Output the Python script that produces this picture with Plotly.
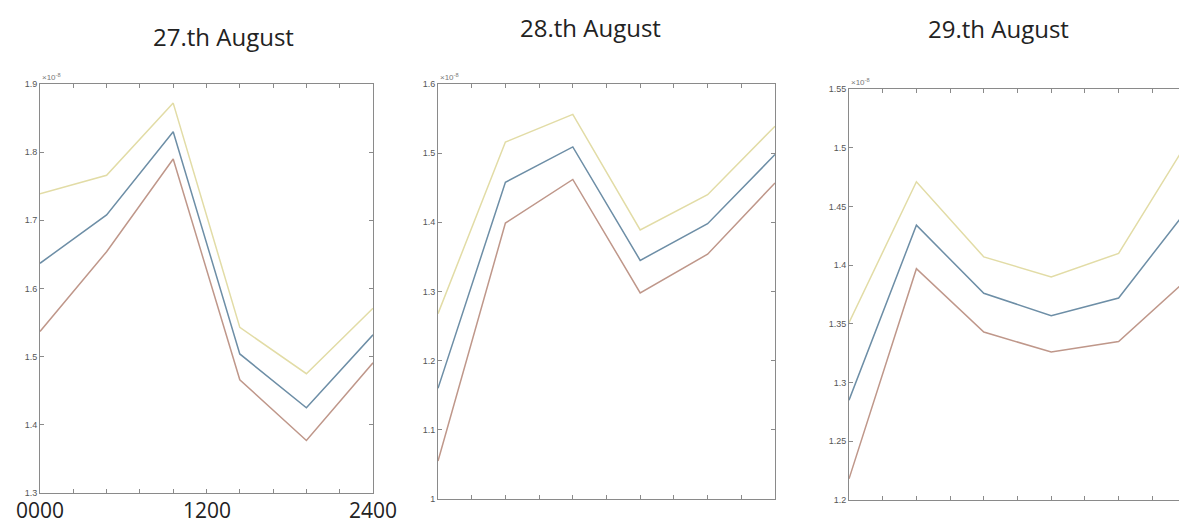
import plotly.graph_objects as go

W, H = 1179, 526

hours = [0, 480, 960, 1440, 1920, 2400]

titles = ["27.th August", "28.th August", "29.th August"]

# values in units of 1e-8
aug27_upper = [1.739, 1.766, 1.872, 1.543, 1.475, 1.571]
aug27_mid = [1.637, 1.708, 1.830, 1.504, 1.425, 1.532]
aug27_lower = [1.537, 1.654, 1.790, 1.466, 1.377, 1.491]

aug28_upper = [1.268, 1.516, 1.556, 1.389, 1.440, 1.539]
aug28_mid = [1.160, 1.458, 1.509, 1.345, 1.398, 1.498]
aug28_lower = [1.055, 1.399, 1.462, 1.298, 1.354, 1.457]

aug29_upper = [1.351, 1.471, 1.407, 1.390, 1.410, 1.503]
aug29_mid = [1.285, 1.434, 1.376, 1.357, 1.372, 1.446]
aug29_lower = [1.218, 1.397, 1.343, 1.326, 1.335, 1.387]

y_ticks_27 = [1.3, 1.4, 1.5, 1.6, 1.7, 1.8, 1.9]
y_ticks_28 = [1.0, 1.1, 1.2, 1.3, 1.4, 1.5, 1.6]
y_ticks_29 = [1.2, 1.25, 1.3, 1.35, 1.4, 1.45, 1.5, 1.55]
y_text_27 = ["1.3", "1.4", "1.5", "1.6", "1.7", "1.8", "1.9"]
y_text_28 = ["1", "1.1", "1.2", "1.3", "1.4", "1.5", "1.6"]
y_text_29 = ["1.2", "1.25", "1.3", "1.35", "1.4", "1.45", "1.5", "1.55"]

x_label_vals = [0, 1200, 2400]
x_label_text = ["0000", "1200", "2400"]

colors = {"upper": "#e2dca6", "mid": "#6d8ea6", "lower": "#bf978a"}

# pixel boxes (left, right, top, bottom)
boxes = [(40, 373, 84, 493), (438, 775, 84, 499), (849, 1179, 89, 500)]
xranges = [[0, 2400], [0, 2400], [0, 2350]]
yranges = [[1.3, 1.9], [1.0, 1.6], [1.2, 1.55]]

data = [
    (aug27_upper, aug27_mid, aug27_lower),
    (aug28_upper, aug28_mid, aug28_lower),
    (aug29_upper, aug29_mid, aug29_lower),
]
yticks = [(y_ticks_27, y_text_27), (y_ticks_28, y_text_28), (y_ticks_29, y_text_29)]

fig = go.Figure()
layout = dict(
    width=W, height=H,
    margin=dict(l=0, r=0, t=0, b=0),
    paper_bgcolor="white", plot_bgcolor="white",
    showlegend=False,
    annotations=[],
)

for i, (up, mid, lo) in enumerate(data):
    xa = "x" if i == 0 else f"x{i+1}"
    ya = "y" if i == 0 else f"y{i+1}"
    for series, key in ((up, "upper"), (lo, "lower"), (mid, "mid")):
        fig.add_trace(go.Scatter(
            x=hours, y=series, mode="lines", xaxis=xa, yaxis=ya,
            line=dict(color=colors[key], width=1.5), hoverinfo="skip",
        ))
    l, r, t, b = boxes[i]
    xd = [l / W, r / W]
    yd = [(H - b) / H, (H - t) / H]
    xkey = "xaxis" if i == 0 else f"xaxis{i+1}"
    ykey = "yaxis" if i == 0 else f"yaxis{i+1}"
    layout[xkey] = dict(
        domain=xd, range=xranges[i], anchor=ya,
        showline=True, linecolor="#8a8a8a", linewidth=1,
        mirror="ticks",
        showgrid=False, zeroline=False,
        ticks="inside", ticklen=4, tickcolor="#8a8a8a",
        dtick=240, tick0=0,
        showticklabels=False,
        automargin=False, fixedrange=True,
    )
    tv, tt = yticks[i]
    layout[ykey] = dict(
        domain=yd, range=yranges[i], anchor=xa,
        showline=True, linecolor="#8a8a8a", linewidth=1,
        mirror="ticks" if i < 2 else False,
        showgrid=False, zeroline=False,
        ticks="inside", ticklen=4, tickcolor="#8a8a8a",
        tickvals=tv, ticktext=tt,
        tickfont=dict(family="Arial, Liberation Sans, sans-serif", size=9, color="#555555"),
        automargin=False, fixedrange=True,
    )
    # exponent label
    layout["annotations"].append(dict(
        x=l / W, y=(H - t) / H, xref="paper", yref="paper",
        xanchor="left", yanchor="bottom", showarrow=False,
        text="×10<sup>-8</sup>", font=dict(family="Arial, sans-serif", size=8, color="#777777"),
    ))

# large x labels under the first panel, positioned by the first x axis
for v, txt in zip(x_label_vals, x_label_text):
    layout["annotations"].append(dict(
        x=v, y=0, xref="x", yref="paper",
        xanchor="center", yanchor="bottom", showarrow=False,
        text=txt, font=dict(family="Open Sans, sans-serif", size=21, color="#222222"),
    ))

title_pos = [(223, 37), (590, 27), (998, 28)]
for (cx, cy), txt in zip(title_pos, titles):
    layout["annotations"].append(dict(
        x=cx / W, y=(H - cy) / H, xref="paper", yref="paper",
        xanchor="center", yanchor="middle", showarrow=False,
        text=txt, font=dict(family="Open Sans, sans-serif", size=24, color="#222222"),
    ))

fig.update_layout(**layout)
fig.write_html(
    "out.html",
    config={"displayModeBar": False},
    post_script="document.body.style.margin='0';document.body.style.overflow='hidden';",
)
